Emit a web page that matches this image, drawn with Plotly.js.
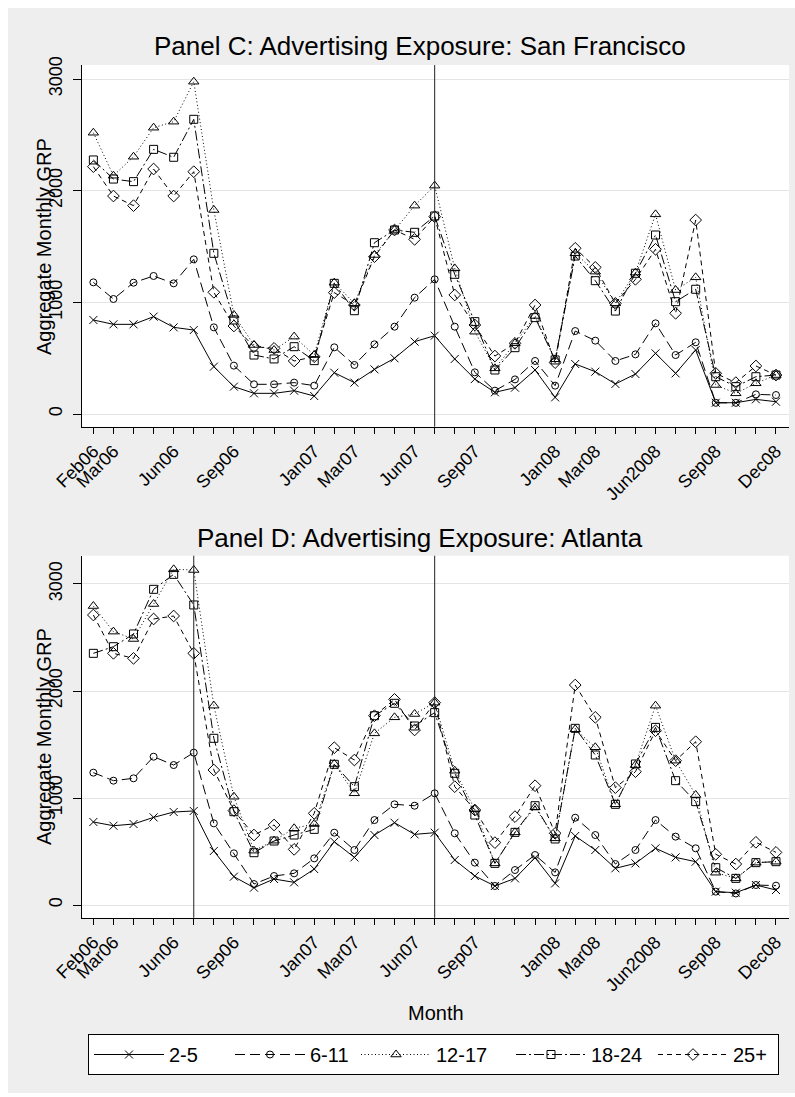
<!DOCTYPE html>
<html>
<head>
<meta charset="utf-8">
<script src="https://cdn.plot.ly/plotly-3.0.1.min.js"></script>
<style>
  body { margin: 0; background: #fff; }
  #grafico { width: 795px; height: 1097px; }
</style>
</head>
<body>
<div id="grafico"></div>
<script>
// months Feb06 .. Dec08
var meses = ['Feb06','Mar06','Apr06','May06','Jun06','Jul06','Aug06','Sep06','Oct06','Nov06','Dec06',
  'Jan07','Feb07','Mar07','Apr07','May07','Jun07','Jul07','Aug07','Sep07','Oct07','Nov07','Dec07',
  'Jan08','Feb08','Mar08','Apr08','May08','Jun08','Jul08','Aug08','Sep08','Oct08','Nov08','Dec08'];
var etiquetas = ['Feb06','Mar06','Jun06','Sep06','Jan07','Mar07','Jun07','Sep07','Jan08','Mar08','Jun08','Sep08','Dec08'];
var textoEtiquetas = ['Feb06','Mar06','Jun06','Sep06','Jan07','Mar07','Jun07','Sep07','Jan08','Mar08','Jun2008','Sep08','Dec08'];
var edades = ['2-5', '6-11', '12-17', '18-24', '25+'];

// Panel C: San Francisco
var sf_2_5   = [842,803,803,872,776,752,424,245,185,185,209,161,370,281,400,499,648,701,493,313,194,236,394,149,448,379,269,358,543,364,573,101,101,131,110];
var sf_6_11  = [1179,1030,1176,1236,1170,1385,776,433,266,266,281,254,597,439,624,782,1042,1206,782,373,209,310,475,254,743,657,475,534,812,528,642,100,100,176,170];
var sf_12_17 = [2519,2134,2304,2564,2618,2976,1827,887,618,573,693,528,1176,991,1424,1648,1866,2045,1304,737,409,633,878,490,1439,1275,991,1266,1788,1110,1224,260,185,275,349];
var sf_18_24 = [2275,2104,2081,2370,2299,2639,1439,842,528,493,603,478,1170,925,1534,1648,1627,1773,1251,827,394,594,863,484,1415,1194,922,1260,1603,1006,1117,334,245,334,349];
var sf_25    = [2215,1952,1866,2194,1952,2170,1090,788,603,588,475,513,1087,976,1409,1648,1564,1767,1066,797,519,633,976,460,1484,1313,991,1206,1475,902,1737,364,281,430,349];

// Panel D: Atlanta
var at_2_5   = [776,741,757,819,869,879,505,265,162,243,212,336,592,445,654,769,660,676,421,271,178,249,442,202,645,514,343,389,530,445,405,125,115,187,140];
var at_6_11  = [1237,1162,1184,1386,1308,1424,763,483,196,271,296,436,676,514,794,941,928,1044,670,396,178,327,467,305,816,654,383,514,794,639,530,125,108,187,181];
var at_12_17 = [2794,2555,2486,2813,3137,3131,1863,1012,508,601,717,757,1318,1044,1604,1754,1785,1891,1255,894,389,679,913,623,1642,1474,941,1308,1863,1349,1028,302,249,396,405];
var at_18_24 = [2352,2414,2533,2950,3090,2804,1558,872,489,598,654,707,1315,1106,1769,1885,1673,1798,1231,841,389,679,928,617,1651,1402,941,1318,1660,1162,966,349,249,396,405];
var at_25    = [2710,2352,2305,2673,2701,2352,1262,882,654,748,520,857,1470,1355,1769,1922,1636,1891,1106,888,583,826,1115,670,2056,1754,1097,1246,1629,1349,1526,474,383,586,492];

var lineasC = ['Jul07'];
var lineasD = ['Jul06', 'Jul07'];

var x = meses.map(function(m, i) { return i; });
var tickPos = etiquetas.map(function(m) { return meses.indexOf(m); });

var simbolos = ['x-thin-open', 'circle-open', 'triangle-up-open', 'square-open', 'diamond-open'];
var tamanos = [8, 7, 9, 8, 9];
var guiones = ['solid', '10px,5px', '1px,2.5px', '10px,3px,2px,3px', '5px,4px'];
var anchoLeyenda = [56, 41, 70, 57, 40];

function serie(valores, k, panel) {
  return {
    x: x,
    y: valores,
    name: edades[k],
    type: 'scatter',
    mode: 'lines+markers',
    xaxis: panel == 1 ? 'x' : 'x2',
    yaxis: panel == 1 ? 'y' : 'y2',
    showlegend: panel == 1,
    legendwidth: anchoLeyenda[k],
    line: { color: '#000', width: 1, dash: guiones[k] },
    marker: { symbol: simbolos[k], size: tamanos[k], color: '#000', line: { color: '#000', width: 1 } }
  };
}

var data = [
  serie(sf_2_5, 0, 1), serie(sf_6_11, 1, 1), serie(sf_12_17, 2, 1), serie(sf_18_24, 3, 1), serie(sf_25, 4, 1),
  serie(at_2_5, 0, 2), serie(at_6_11, 1, 2), serie(at_12_17, 2, 2), serie(at_18_24, 3, 2), serie(at_25, 4, 2)
];

var fuente = 'Liberation Sans, Arial, sans-serif';

function ejeX(anchor) {
  return {
    anchor: anchor,
    domain: [0.1028, 0.9925],
    range: [-0.58, 34.65],
    tickmode: 'array',
    tickvals: tickPos,
    ticktext: textoEtiquetas,
    tickangle: -45,
    ticks: 'outside',
    ticklen: 6,
    tickcolor: '#000',
    tickfont: { size: 18, color: '#000' },
    minor: { tick0: 0, dtick: 1, ticks: 'outside', ticklen: 6, tickcolor: '#000', showgrid: false },
    showline: true,
    linecolor: '#000',
    linewidth: 1,
    showgrid: false,
    zeroline: false
  };
}

function ejeY(anchor, dominio, rango) {
  return {
    anchor: anchor,
    domain: dominio,
    range: rango,
    tickmode: 'array',
    tickvals: [0, 1000, 2000, 3000],
    tickangle: -90,
    ticks: 'outside',
    ticklen: 8,
    ticklabelstandoff: 4,
    tickcolor: '#000',
    tickfont: { size: 18, color: '#000' },
    showline: true,
    linecolor: '#000',
    linewidth: 1,
    showgrid: true,
    gridcolor: '#E4E4E4',
    gridwidth: 1,
    zeroline: false
  };
}

var shapes = [
  // white border strips around the grey graph region
  { type: 'rect', xref: 'paper', yref: 'paper', x0: 0, x1: 1, y0: 1 - 8 / 1097, y1: 1, fillcolor: '#fff', line: { width: 0 } },
  { type: 'rect', xref: 'paper', yref: 'paper', x0: 0, x1: 8 / 795, y0: 0, y1: 1, fillcolor: '#fff', line: { width: 0 } },
  { type: 'rect', xref: 'paper', yref: 'paper', x0: 0, x1: 1, y0: 0, y1: 4 / 1097, fillcolor: '#fff', line: { width: 0 } }
];
lineasC.forEach(function(m) {
  var i = meses.indexOf(m);
  shapes.push({ type: 'line', xref: 'x', yref: 'y domain', x0: i, x1: i, y0: 0, y1: 1, line: { color: '#222', width: 1 } });
});
lineasD.forEach(function(m) {
  var i = meses.indexOf(m);
  shapes.push({ type: 'line', xref: 'x2', yref: 'y2 domain', x0: i, x1: i, y0: 0, y1: 1, line: { color: '#222', width: 1 } });
});

var annotations = [
  { text: 'Panel C: Advertising Exposure: San Francisco', xref: 'paper', yref: 'paper', x: 0.528, y: 1 - 46 / 1097,
    xanchor: 'center', yanchor: 'middle', showarrow: false, font: { size: 26, color: '#000' } },
  { text: 'Panel D: Advertising Exposure: Atlanta', xref: 'paper', yref: 'paper', x: 0.528, y: 1 - 538 / 1097,
    xanchor: 'center', yanchor: 'middle', showarrow: false, font: { size: 26, color: '#000' } },
  { text: 'Aggregate Monthly GRP', xref: 'paper', yref: 'paper', x: 44 / 795, y: 1 - 247 / 1097, textangle: -90,
    xanchor: 'center', yanchor: 'middle', showarrow: false, font: { size: 20, color: '#000' } },
  { text: 'Aggregate Monthly GRP', xref: 'paper', yref: 'paper', x: 44 / 795, y: 1 - 737 / 1097, textangle: -90,
    xanchor: 'center', yanchor: 'middle', showarrow: false, font: { size: 20, color: '#000' } },
  { text: 'Month', xref: 'paper', yref: 'paper', x: 436 / 795, y: 1 - 1013 / 1097,
    xanchor: 'center', yanchor: 'middle', showarrow: false, font: { size: 20, color: '#000' } }
];

var layout = {
  width: 795,
  height: 1097,
  margin: { l: 0, r: 0, t: 0, b: 0 },
  paper_bgcolor: '#EEEEEE',
  plot_bgcolor: '#FFFFFF',
  font: { family: fuente, color: '#000' },
  xaxis: ejeX('y'),
  yaxis: ejeY('x', [0.6110, 0.9407], [-114, 3125]),
  xaxis2: ejeX('y2'),
  yaxis2: ejeY('x2', [0.1634, 0.4934], [-119, 3264]),
  showlegend: true,
  legend: {
    orientation: 'h',
    x: 88 / 795, xanchor: 'left',
    y: 1 - 1034 / 1097, yanchor: 'top',
    bgcolor: '#FFFFFF',
    bordercolor: '#000',
    borderwidth: 1,
    itemwidth: 70,
    font: { size: 20, color: '#000' }
  },
  shapes: shapes,
  annotations: annotations
};

Plotly.newPlot('grafico', data, layout, { staticPlot: true });
</script>
</body>
</html>
